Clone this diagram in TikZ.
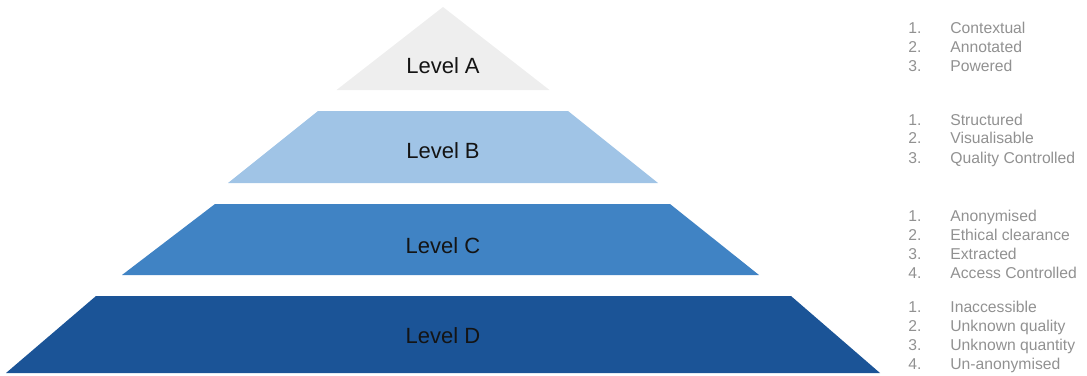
\documentclass[tikz,border=0pt]{standalone}
\usepackage{fontspec}
\setmainfont{Liberation Sans}
\usepackage{tikz}
\usetikzlibrary{positioning}

\definecolor{levelA}{RGB}{238,238,238}
\definecolor{levelB}{RGB}{160,196,230}
\definecolor{levelC}{RGB}{64,131,196}
\definecolor{levelD}{RGB}{27,84,151}
\definecolor{listgray}{RGB}{145,145,145}

\tikzset{
  levellabel/.style={anchor=base, text=black!92, font=\fontsize{11}{13}\selectfont},
  levellist/.style={anchor=base west, inner sep=0pt, text=listgray, font=\fontsize{7.85}{9.5}\selectfont}
}

\begin{document}
\begin{tikzpicture}[x=0.5pt,y=-0.5pt]
\useasboundingbox (0,0) rectangle (1087,375);
% pyramid levels
\fill[levelA] (443,7) -- (549.5,90) -- (336.5,90) -- cycle;
\fill[levelB] (318,111) -- (568,111) -- (658,183) -- (228,183) -- cycle;
\fill[levelC] (215,204) -- (670,204) -- (759,275) -- (122,275) -- cycle;
\fill[levelD] (96,296) -- (791,296) -- (880,373) -- (6,373) -- cycle;
% level names
\node[levellabel] (labA) at (443,73) {Level A};
\node[levellabel] (labB) at (443,158) {Level B};
\node[levellabel] (labC) at (443,253) {Level C};
\node[levellabel] (labD) at (443,343) {Level D};
% criteria
\node[levellist] (listA) at (908,33) {\begin{tabular}[t]{@{}p{21pt}@{}l@{}}
1. & Contextual\\ 2. & Annotated\\ 3. & Powered\end{tabular}};
\node[levellist] (listB) at (908,125) {\begin{tabular}[t]{@{}p{21pt}@{}l@{}}
1. & Structured\\ 2. & Visualisable\\ 3. & Quality Controlled\end{tabular}};
\node[levellist] (listC) at (908,221.5) {\begin{tabular}[t]{@{}p{21pt}@{}l@{}}
1. & Anonymised\\ 2. & Ethical clearance\\ 3. & Extracted\\ 4. & Access Controlled\end{tabular}};
\node[levellist] (listD) at (908,312.5) {\begin{tabular}[t]{@{}p{21pt}@{}l@{}}
1. & Inaccessible\\ 2. & Unknown quality\\ 3. & Unknown quantity\\ 4. & Un-anonymised\end{tabular}};
\end{tikzpicture}
\end{document}
